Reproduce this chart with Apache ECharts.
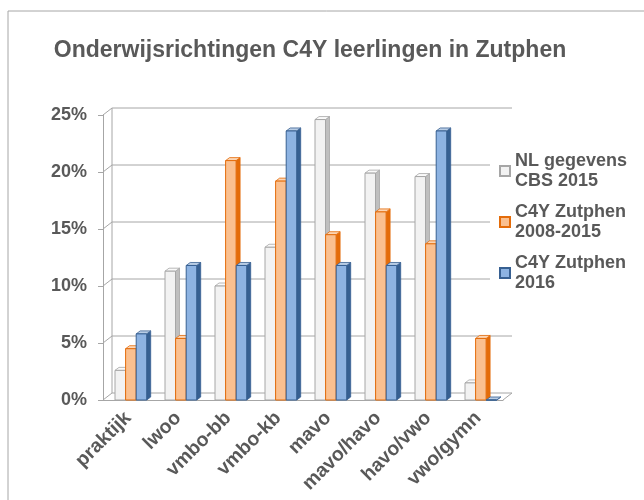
<!DOCTYPE html>
<html>
<head>
<meta charset="utf-8">
<script src="https://cdn.jsdelivr.net/npm/echarts@6/dist/echarts.min.js"></script>
<style>
  html, body { margin: 0; padding: 0; background: #fff; }
  #chart { width: 644px; height: 500px; }
</style>
</head>
<body>
<div id="chart"></div>
<script>
var categories = ['praktijk', 'lwoo', 'vmbo-bb', 'vmbo-kb', 'mavo', 'mavo/havo', 'havo/vwo', 'vwo/gymn'];
var seriesNames = ['NL gegevens\nCBS 2015', 'C4Y Zutphen\n2008-2015', 'C4Y Zutphen\n2016'];
var nlCbs2015 = [2.6, 11.3, 10.0, 13.4, 24.6, 19.9, 19.6, 1.5];
var zutphen2008 = [4.5, 5.4, 21.0, 19.2, 14.5, 16.5, 13.7, 5.4];
var zutphen2016 = [5.8, 11.8, 11.8, 23.6, 11.8, 11.8, 23.6, 0];
var yTicks = [0, 5, 10, 15, 20, 25];

(function () {
    'use strict';
    var chart = echarts.init(document.getElementById('chart'));
    var textColor = '#595959';
    var lineColor = '#a6a6a6';
    // depth of the back wall and of the bars, in px
    var WALL_DX = 9, WALL_DY = -7;
    var BAR_DX = 4, BAR_DY = -3;

    var palette = [
        { front: '#f2f2f2', top: '#fafafa', side: '#bfbfbf', border: '#a6a6a6' },
        { front: '#fac090', top: '#fcd5b4', side: '#e46c0a', border: '#e46c0a' },
        { front: '#8db3e2', top: '#b9cde5', side: '#366092', border: '#376092' }
    ];

    function barRenderer(idx) {
        return function (params, api) {
            var cat = api.value(0);
            var p0 = api.coord([cat, 0]);
            var p1 = api.coord([cat, api.value(1)]);
            var band = api.size([1, 0])[0];
            var w = band * 0.21;
            var x = p0[0] - band / 2 + band * 0.24 + idx * band * 0.212;
            var yb = p0[1], yt = p1[1];
            var c = palette[idx];
            return {
                type: 'group',
                children: [{
                    type: 'polygon',
                    shape: { points: [[x + w, yt], [x + w + BAR_DX, yt + BAR_DY], [x + w + BAR_DX, yb + BAR_DY], [x + w, yb]] },
                    style: { fill: c.side, stroke: c.border, lineWidth: 0.8 }
                }, {
                    type: 'polygon',
                    shape: { points: [[x, yt], [x + BAR_DX, yt + BAR_DY], [x + w + BAR_DX, yt + BAR_DY], [x + w, yt]] },
                    style: { fill: c.top, stroke: c.border, lineWidth: 0.8 }
                }, {
                    type: 'rect',
                    shape: { x: x, y: yt, width: w, height: yb - yt },
                    style: { fill: c.front, stroke: c.border, lineWidth: 1 }
                }]
            };
        };
    }

    // back wall gridlines + side wall diagonals
    function wallRenderer(params, api) {
        var cs = params.coordSys;
        var y = api.coord([0, api.value(1)])[1];
        var L = cs.x, R = cs.x + cs.width;
        var children = [{
            type: 'polyline',
            shape: { points: [[L, y], [L + WALL_DX, y + WALL_DY], [R + WALL_DX, y + WALL_DY]] },
            style: { stroke: lineColor, lineWidth: 1, fill: null }
        }];
        if (api.value(1) === 0) {
            children.push({
                type: 'line',
                shape: { x1: R, y1: y, x2: R + WALL_DX, y2: y + WALL_DY },
                style: { stroke: lineColor, lineWidth: 1 }
            }, {
                type: 'line',
                shape: { x1: L + WALL_DX, y1: y + WALL_DY, x2: L + WALL_DX, y2: cs.y + WALL_DY },
                style: { stroke: lineColor, lineWidth: 1 }
            });
        }
        return { type: 'group', children: children };
    }

    var dataSets = [nlCbs2015, zutphen2008, zutphen2016];
    var series = [{
        type: 'custom',
        name: 'walls',
        silent: true,
        z: 1,
        renderItem: wallRenderer,
        encode: { x: 0, y: 1 },
        data: yTicks.map(function (v) { return [0, v]; })
    }];
    dataSets.forEach(function (vals, i) {
        series.push({
            type: 'custom',
            name: seriesNames[i],
            z: 2 + i,
            renderItem: barRenderer(i),
            itemStyle: { color: palette[i].front, borderColor: palette[i].border, borderWidth: 1 },
            encode: { x: 0, y: 1 },
            data: vals.map(function (v, k) { return [k, v]; })
        });
    });

    var option = {
        backgroundColor: '#fff',
        animation: false,
        title: {
            text: 'Onderwijsrichtingen C4Y leerlingen in Zutphen',
            left: 305,
            top: 34,
            textAlign: 'center',
            textStyle: { color: textColor, fontFamily: 'Liberation Sans', fontWeight: 'bold', fontSize: 23 }
        },
        graphic: [{
            type: 'rect',
            shape: { x: 8, y: 11, width: 700, height: 600 },
            style: { fill: null, stroke: lineColor, lineWidth: 1 },
            silent: true
        }],
        legend: {
            data: seriesNames,
            orient: 'vertical',
            left: 490,
            top: 132,
            padding: 9,
            itemGap: -9,
            backgroundColor: '#fff',
            icon: 'rect',
            itemWidth: 10,
            itemHeight: 10,
            z: 10,
            textStyle: {
                color: textColor,
                fontFamily: 'Liberation Sans',
                fontWeight: 'bold',
                fontSize: 18,
                lineHeight: 20,
                padding: [20, 0, 0, 0]
            }
        },
        grid: { left: 103, right: 141, top: 115, bottom: 100 },
        xAxis: {
            type: 'category',
            data: categories,
            axisLine: { lineStyle: { color: lineColor } },
            axisTick: { lineStyle: { color: lineColor }, length: 5 },
            axisLabel: {
                rotate: 45,
                margin: 15,
                color: textColor,
                fontFamily: 'Liberation Sans',
                fontWeight: 'bold',
                fontSize: 19.5
            }
        },
        yAxis: {
            type: 'value',
            min: 0,
            max: 25,
            interval: 5,
            splitLine: { show: false },
            axisLine: { show: true, lineStyle: { color: lineColor } },
            axisTick: { show: true, lineStyle: { color: lineColor }, length: 5 },
            axisLabel: {
                formatter: '{value}%',
                margin: 16,
                color: textColor,
                fontFamily: 'Liberation Sans',
                fontWeight: 'bold',
                fontSize: 18
            }
        },
        series: series
    };
    chart.setOption(option);
})();
</script>
</body>
</html>
